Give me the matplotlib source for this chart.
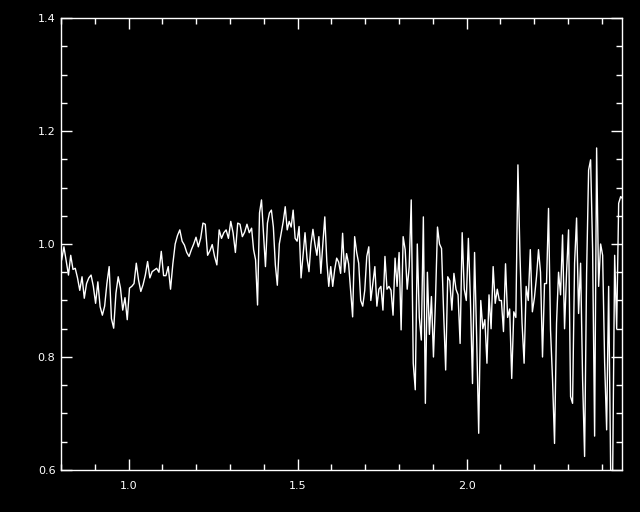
import numpy as np
import matplotlib
matplotlib.use("Agg")
import matplotlib.pyplot as plt
from matplotlib.ticker import MultipleLocator, FormatStrFormatter

# flux values read left to right, in six wavelength pieces
seg1 = [0.972, 0.995, 0.97, 0.945, 0.98, 0.955, 0.957, 0.94, 0.918, 0.942,
        0.904, 0.93, 0.94, 0.945, 0.925, 0.895, 0.933, 0.889, 0.874, 0.89,
        0.93, 0.96, 0.868, 0.851, 0.913, 0.942, 0.922, 0.883, 0.905, 0.866,
        0.922, 0.925, 0.93, 0.966, 0.936, 0.916, 0.928, 0.945, 0.969, 0.94,
        0.951, 0.954]
seg2 = [0.957, 0.95, 0.987, 0.944, 0.944, 0.96, 0.92, 0.965, 1.0, 1.015,
        1.025, 1.005, 0.998, 0.985, 0.978, 0.99, 1.0, 1.012, 0.995, 1.01,
        1.037, 1.035, 0.98, 0.988, 0.999, 0.978, 0.963, 1.025, 1.01, 1.02,
        1.025, 1.01, 1.04, 1.02, 0.985, 1.037, 1.035, 1.013, 1.021, 1.035,
        1.02]
seg3 = [1.028, 0.99, 0.972, 0.892, 1.055, 1.078, 1.02, 0.96, 1.037, 1.055,
        1.06, 1.03, 0.963, 0.927, 1.0, 1.02, 1.04, 1.066, 1.025, 1.04,
        1.03, 1.06, 1.01, 1.005, 1.031, 0.94, 0.98, 1.02, 0.975, 0.951,
        1.0, 1.026, 1.0, 0.98, 1.013, 0.948, 1.0, 1.048, 0.97, 0.925,
        0.96, 0.925, 0.955, 0.975, 0.968, 0.948, 1.019, 0.95]
seg4 = [0.983, 0.965, 0.918, 0.871, 1.013, 0.985, 0.966, 0.9, 0.89, 0.918,
        0.978, 0.995, 0.9, 0.93, 0.96, 0.89, 0.92, 0.925, 0.883, 0.978,
        0.92, 0.925, 0.918, 0.874, 0.975, 0.925, 0.985, 0.848, 1.013, 0.99,
        0.92, 0.96, 1.078, 0.789, 0.742, 1.0, 0.87, 0.83, 1.048, 0.718,
        0.95, 0.84, 0.907, 0.8, 0.9, 1.03, 1.0]
seg5 = [0.992, 0.88, 0.777, 0.942, 0.935, 0.883, 0.948, 0.92, 0.91, 0.824,
        1.02, 0.92, 0.9, 1.01, 0.9, 0.753, 0.985, 0.836, 0.665, 0.9,
        0.85, 0.866, 0.789, 0.91, 0.85, 0.96, 0.895, 0.92, 0.9, 0.9,
        0.845, 0.965, 0.87, 0.885, 0.762, 0.88, 0.87, 1.14, 0.98, 0.86,
        0.789, 0.925, 0.9, 0.99, 0.88, 0.905]
seg6 = [0.942, 0.99, 0.95, 0.8, 0.93, 0.93, 1.063, 0.848, 0.76, 0.647,
        0.86, 0.95, 0.91, 1.016, 0.85, 0.95, 1.025, 0.73, 0.718, 0.966,
        1.046, 0.877, 0.966, 0.76, 0.624, 0.948, 1.131, 1.149, 0.99, 0.66,
        1.17, 0.925, 1.0, 0.98, 0.79, 0.671, 0.925, 0.6, 0.59, 0.98,
        0.85, 1.072, 1.084, 1.08]
segments = [seg1, seg2, seg3, seg4, seg5, seg6]
# wavelength limits of each piece
seg_edges = [0.802, 1.083, 1.364, 1.645, 1.926, 2.207, 2.462]

wave_parts, flux_parts = [], []
for i, seg in enumerate(segments):
    last = i == len(segments) - 1
    wave_parts.append(np.linspace(seg_edges[i], seg_edges[i + 1], len(seg),
                                  endpoint=last))
    flux_parts.append(np.array(seg))
wave = np.concatenate(wave_parts)
flux = np.concatenate(flux_parts)

xticks = [1.0, 1.5, 2.0]
yticks = [0.6, 0.8, 1.0, 1.2, 1.4]

fig = plt.figure(figsize=(6.4, 5.12), dpi=100, facecolor="black")
ax = fig.add_axes([61/640, 42/512, 561/640, 452/512], facecolor="black")
ax.plot(wave, flux, color="white", lw=1.0)
ax.set_xlim(0.80, 2.46)
ax.set_ylim(0.6, 1.4)
ax.set_xticks(xticks)
ax.set_yticks(yticks)
ax.xaxis.set_minor_locator(MultipleLocator(0.1))
ax.yaxis.set_minor_locator(MultipleLocator(0.05))
ax.xaxis.set_major_formatter(FormatStrFormatter("%.1f"))
ax.yaxis.set_major_formatter(FormatStrFormatter("%.1f"))
for s in ax.spines.values():
    s.set_color("white")
    s.set_linewidth(1.0)
ax.tick_params(which="both", direction="in", top=True, right=True,
               colors="white", labelsize=8, width=1.0)
ax.tick_params(which="major", length=8)
ax.tick_params(which="minor", length=4.5)
ax.tick_params(axis="x", which="major", pad=8)
ax.tick_params(axis="y", which="major", pad=4)

fig.savefig("out.png", dpi=100, facecolor="black")
